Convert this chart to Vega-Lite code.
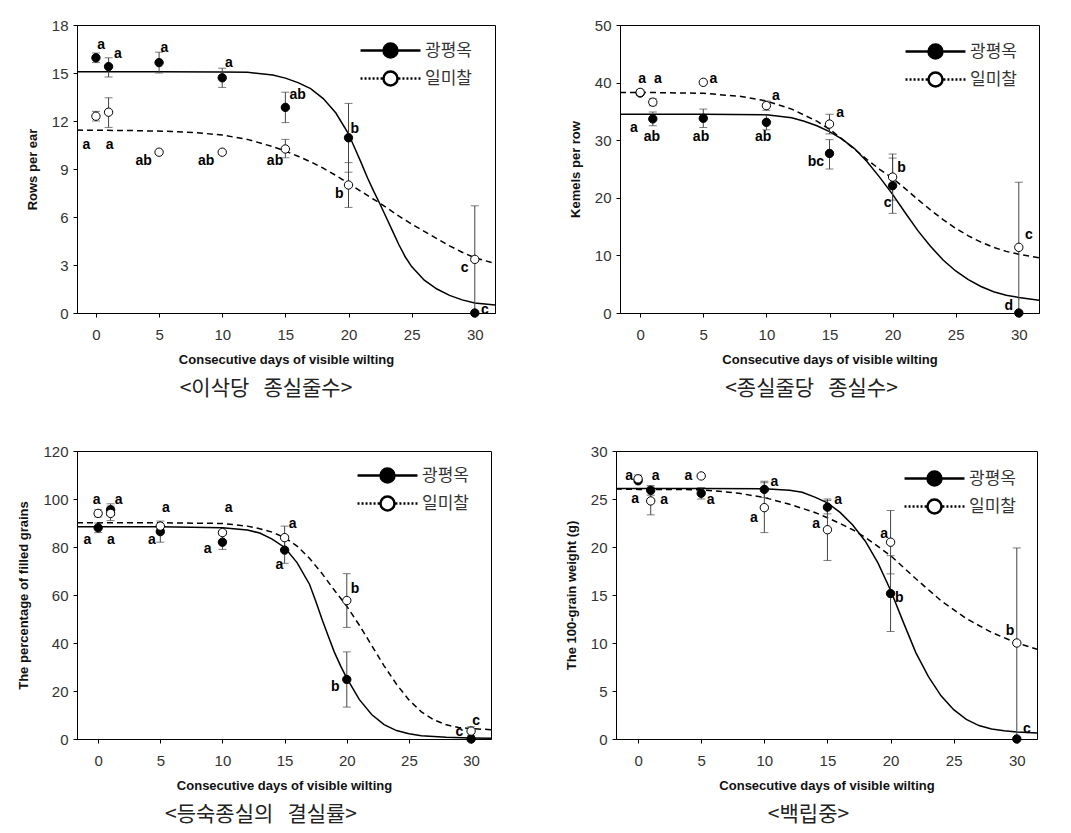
{
"$schema": "https://vega.github.io/schema/vega-lite/v6.json",
"padding": {"left": 17, "top": 17, "right": 5, "bottom": 5},
"background": "white",
"config": {
  "view": {"stroke": "black", "strokeWidth": 1},
  "axis": {"grid": false, "domainColor": "black", "tickColor": "black", "tickSize": 4, "labelFont": "Liberation Sans", "labelFontSize": 15, "labelColor": "#333", "titleFont": "Liberation Sans", "titleFontSize": 13, "titleFontWeight": "bold", "titleColor": "#111"},
  "axisX": {"labelPadding": 10, "titlePadding": 11},
  "axisY": {"labelPadding": 5, "titlePadding": 12},
  "title": {"font": "Noto Sans CJK KR", "fontSize": 21, "fontWeight": "normal", "color": "#222"},
  "legend": {"title": null, "orient": "none", "symbolSize": 784, "symbolStrokeColor": "black", "symbolStrokeWidth": 2.5, "labelFont": "Noto Sans CJK KR", "labelFontSize": 17, "labelColor": "#333", "labelOffset": 19, "rowPadding": 0, "padding": 0}
},
"resolve": {"scale": {"fill": "independent", "shape": "independent"}, "legend": {"fill": "independent", "shape": "independent"}},
"datasets": {
"p1c": [
{"c":"광평옥","d":-1.5,"v":15.08},{"c":"광평옥","d":0,"v":15.08},{"c":"광평옥","d":5,"v":15.08},{"c":"광평옥","d":10,"v":15.07},{"c":"광평옥","d":12,"v":15.04},{"c":"광평옥","d":14,"v":14.88},{"c":"광평옥","d":15,"v":14.68},{"c":"광평옥","d":16,"v":14.4},{"c":"광평옥","d":17,"v":14.02},{"c":"광평옥","d":18,"v":13.4},{"c":"광평옥","d":19,"v":12.5},{"c":"광평옥","d":20,"v":11.2},{"c":"광평옥","d":20.5,"v":10.3},{"c":"광평옥","d":21,"v":9.4},{"c":"광평옥","d":21.5,"v":8.45},{"c":"광평옥","d":22,"v":7.6},{"c":"광평옥","d":22.5,"v":6.8},{"c":"광평옥","d":23,"v":5.95},{"c":"광평옥","d":23.5,"v":5.1},{"c":"광평옥","d":24,"v":4.25},{"c":"광평옥","d":24.5,"v":3.5},{"c":"광평옥","d":25,"v":2.9},{"c":"광평옥","d":26,"v":2.05},{"c":"광평옥","d":27,"v":1.5},{"c":"광평옥","d":28,"v":1.1},{"c":"광평옥","d":29,"v":0.82},{"c":"광평옥","d":30,"v":0.63},{"c":"광평옥","d":31.6,"v":0.5},
{"c":"일미찰","d":-1.5,"v":11.43},{"c":"일미찰","d":0,"v":11.42},{"c":"일미찰","d":3,"v":11.4},{"c":"일미찰","d":6,"v":11.35},{"c":"일미찰","d":8,"v":11.27},{"c":"일미찰","d":10,"v":11.12},{"c":"일미찰","d":12,"v":10.85},{"c":"일미찰","d":14,"v":10.4},{"c":"일미찰","d":15,"v":10.12},{"c":"일미찰","d":16,"v":9.8},{"c":"일미찰","d":17,"v":9.45},{"c":"일미찰","d":18,"v":9.05},{"c":"일미찰","d":19,"v":8.6},{"c":"일미찰","d":20,"v":8.1},{"c":"일미찰","d":21,"v":7.6},{"c":"일미찰","d":22,"v":7.1},{"c":"일미찰","d":23,"v":6.6},{"c":"일미찰","d":24,"v":6.05},{"c":"일미찰","d":25,"v":5.55},{"c":"일미찰","d":26,"v":5.1},{"c":"일미찰","d":27,"v":4.65},{"c":"일미찰","d":28,"v":4.2},{"c":"일미찰","d":29,"v":3.8},{"c":"일미찰","d":30,"v":3.45},{"c":"일미찰","d":31.6,"v":3.1}
],
"p1p": [
{"c":"광평옥","d":0,"v":15.95,"lo":15.65,"hi":16.25},{"c":"광평옥","d":1,"v":15.4,"lo":14.75,"hi":15.95},{"c":"광평옥","d":5,"v":15.65,"lo":15.0,"hi":16.3},{"c":"광평옥","d":10,"v":14.7,"lo":14.1,"hi":15.3},{"c":"광평옥","d":15,"v":12.85,"lo":11.9,"hi":13.8},{"c":"광평옥","d":20,"v":10.95,"lo":8.8,"hi":13.1},{"c":"광평옥","d":30,"v":0,"lo":null,"hi":null},
{"c":"일미찰","d":0,"v":12.3,"lo":12.0,"hi":12.6},{"c":"일미찰","d":1,"v":12.55,"lo":11.6,"hi":13.45},{"c":"일미찰","d":5,"v":10.05,"lo":null,"hi":null},{"c":"일미찰","d":10,"v":10.05,"lo":null,"hi":null},{"c":"일미찰","d":15,"v":10.25,"lo":9.7,"hi":10.85},{"c":"일미찰","d":20,"v":8.0,"lo":6.6,"hi":9.4},{"c":"일미찰","d":30,"v":3.35,"lo":0,"hi":6.7}
],
"p1l": [
{"d":0.42,"v":16.75,"t":"a"},{"d":1.74,"v":16.17,"t":"a"},{"d":5.43,"v":16.58,"t":"a"},{"d":10.52,"v":15.64,"t":"a"},{"d":15.98,"v":13.62,"t":"ab"},{"d":20.5,"v":11.53,"t":"b"},{"d":30.8,"v":0.2,"t":"c"},
{"d":-0.76,"v":10.49,"t":"a"},{"d":1.08,"v":10.49,"t":"a"},{"d":3.77,"v":9.49,"t":"ab"},{"d":8.73,"v":9.49,"t":"ab"},{"d":14.18,"v":9.49,"t":"ab"},{"d":19.27,"v":7.45,"t":"b"},{"d":29.2,"v":2.82,"t":"c"}
],
"p2c": [
{"c":"광평옥","d":-1.6,"v":34.5},{"c":"광평옥","d":0,"v":34.5},{"c":"광평옥","d":5,"v":34.5},{"c":"광평옥","d":10,"v":34.4},{"c":"광평옥","d":12,"v":33.9},{"c":"광평옥","d":13,"v":33.3},{"c":"광평옥","d":14,"v":32.5},{"c":"광평옥","d":15,"v":31.5},{"c":"광평옥","d":16,"v":30.2},{"c":"광평옥","d":17,"v":28.5},{"c":"광평옥","d":18,"v":26.2},{"c":"광평옥","d":19,"v":23.5},{"c":"광평옥","d":20,"v":20.6},{"c":"광평옥","d":21,"v":17.4},{"c":"광평옥","d":22,"v":14.3},{"c":"광평옥","d":23,"v":11.6},{"c":"광평옥","d":24,"v":9.2},{"c":"광평옥","d":25,"v":7.3},{"c":"광평옥","d":26,"v":5.8},{"c":"광평옥","d":27,"v":4.6},{"c":"광평옥","d":28,"v":3.7},{"c":"광평옥","d":29,"v":3.1},{"c":"광평옥","d":30,"v":2.7},{"c":"광평옥","d":31.6,"v":2.2},
{"c":"일미찰","d":-1.6,"v":38.3},{"c":"일미찰","d":0,"v":38.3},{"c":"일미찰","d":5,"v":38.15},{"c":"일미찰","d":8,"v":37.6},{"c":"일미찰","d":10,"v":36.8},{"c":"일미찰","d":12,"v":35.4},{"c":"일미찰","d":14,"v":33.3},{"c":"일미찰","d":15,"v":31.9},{"c":"일미찰","d":16,"v":30.2},{"c":"일미찰","d":17,"v":28.4},{"c":"일미찰","d":18,"v":26.6},{"c":"일미찰","d":19,"v":24.9},{"c":"일미찰","d":20,"v":23.4},{"c":"일미찰","d":21,"v":21.6},{"c":"일미찰","d":22,"v":19.7},{"c":"일미찰","d":23,"v":17.9},{"c":"일미찰","d":24,"v":16.2},{"c":"일미찰","d":25,"v":14.7},{"c":"일미찰","d":26,"v":13.4},{"c":"일미찰","d":27,"v":12.3},{"c":"일미찰","d":28,"v":11.4},{"c":"일미찰","d":29,"v":10.7},{"c":"일미찰","d":30,"v":10.2},{"c":"일미찰","d":31.6,"v":9.6}
],
"p2p": [
{"c":"광평옥","d":0,"v":38.2,"lo":null,"hi":null},{"c":"광평옥","d":1,"v":33.7,"lo":32.5,"hi":34.9},{"c":"광평옥","d":5,"v":33.8,"lo":32.2,"hi":35.4},{"c":"광평옥","d":10,"v":33.1,"lo":31.8,"hi":34.4},{"c":"광평옥","d":15,"v":27.7,"lo":25.0,"hi":30.1},{"c":"광평옥","d":20,"v":22.1,"lo":17.3,"hi":26.9},{"c":"광평옥","d":30,"v":0,"lo":null,"hi":null},
{"c":"일미찰","d":0,"v":38.3,"lo":37.8,"hi":38.8},{"c":"일미찰","d":1,"v":36.6,"lo":36.0,"hi":37.2},{"c":"일미찰","d":5,"v":40.05,"lo":null,"hi":null},{"c":"일미찰","d":10,"v":36.0,"lo":35.2,"hi":36.8},{"c":"일미찰","d":15,"v":32.8,"lo":31.1,"hi":34.5},{"c":"일미찰","d":20,"v":23.6,"lo":19.6,"hi":27.6},{"c":"일미찰","d":30,"v":11.4,"lo":0,"hi":22.7}
],
"p2l": [
{"d":0.15,"v":40.6,"t":"a"},{"d":1.4,"v":40.6,"t":"a"},{"d":5.8,"v":40.6,"t":"a"},{"d":10.76,"v":37.7,"t":"a"},{"d":15.85,"v":34.7,"t":"a"},{"d":20.7,"v":25.1,"t":"b"},{"d":30.8,"v":13.6,"t":"c"},
{"d":-0.5,"v":32.1,"t":"a"},{"d":0.92,"v":30.6,"t":"ab"},{"d":4.82,"v":30.6,"t":"ab"},{"d":9.75,"v":30.6,"t":"ab"},{"d":13.92,"v":26.3,"t":"bc"},{"d":19.6,"v":19.1,"t":"c"},{"d":29.2,"v":1.16,"t":"d"}
],
"p3c": [
{"c":"광평옥","d":-1.7,"v":88.4},{"c":"광평옥","d":0,"v":88.4},{"c":"광평옥","d":5,"v":88.4},{"c":"광평옥","d":10,"v":88.0},{"c":"광평옥","d":12,"v":87.1},{"c":"광평옥","d":13,"v":85.8},{"c":"광평옥","d":14,"v":83.3},{"c":"광평옥","d":15,"v":79.8},{"c":"광평옥","d":16,"v":73.5},{"c":"광평옥","d":17,"v":64.5},{"c":"광평옥","d":17.5,"v":57.5},{"c":"광평옥","d":18,"v":50},{"c":"광평옥","d":18.5,"v":43},{"c":"광평옥","d":19,"v":36.2},{"c":"광평옥","d":19.5,"v":30.5},{"c":"광평옥","d":20,"v":25.4},{"c":"광평옥","d":21,"v":16.5},{"c":"광평옥","d":22,"v":10.2},{"c":"광평옥","d":23,"v":6.0},{"c":"광평옥","d":24,"v":3.5},{"c":"광평옥","d":25,"v":2.2},{"c":"광평옥","d":26,"v":1.4},{"c":"광평옥","d":28,"v":0.7},{"c":"광평옥","d":30,"v":0.4},{"c":"광평옥","d":31.6,"v":0.3},
{"c":"일미찰","d":-1.7,"v":90.1},{"c":"일미찰","d":0,"v":90.1},{"c":"일미찰","d":5,"v":90.1},{"c":"일미찰","d":10,"v":89.8},{"c":"일미찰","d":12,"v":88.7},{"c":"일미찰","d":13,"v":87.6},{"c":"일미찰","d":14,"v":86.2},{"c":"일미찰","d":15,"v":83.9},{"c":"일미찰","d":16,"v":80.4},{"c":"일미찰","d":17,"v":75.3},{"c":"일미찰","d":18,"v":69},{"c":"일미찰","d":19,"v":62},{"c":"일미찰","d":20,"v":55.3},{"c":"일미찰","d":21,"v":47.5},{"c":"일미찰","d":22,"v":39},{"c":"일미찰","d":23,"v":30.5},{"c":"일미찰","d":24,"v":22.8},{"c":"일미찰","d":25,"v":16.3},{"c":"일미찰","d":26,"v":11.3},{"c":"일미찰","d":27,"v":8.0},{"c":"일미찰","d":28,"v":5.9},{"c":"일미찰","d":29,"v":4.8},{"c":"일미찰","d":30,"v":4.3},{"c":"일미찰","d":31.6,"v":3.9}
],
"p3p": [
{"c":"광평옥","d":0,"v":88,"lo":86,"hi":90},{"c":"광평옥","d":1,"v":95.5,"lo":93,"hi":98},{"c":"광평옥","d":5,"v":86.4,"lo":82,"hi":90.8},{"c":"광평옥","d":10,"v":82,"lo":79,"hi":85},{"c":"광평옥","d":15,"v":78.7,"lo":73.2,"hi":84.2},{"c":"광평옥","d":20,"v":24.8,"lo":13.3,"hi":36.3},{"c":"광평옥","d":30,"v":0,"lo":null,"hi":null},
{"c":"일미찰","d":0,"v":94,"lo":92.5,"hi":95.5},{"c":"일미찰","d":1,"v":94,"lo":91,"hi":97},{"c":"일미찰","d":5,"v":88.7,"lo":null,"hi":null},{"c":"일미찰","d":10,"v":86,"lo":null,"hi":null},{"c":"일미찰","d":15,"v":83.9,"lo":79.1,"hi":88.7},{"c":"일미찰","d":20,"v":57.7,"lo":46.5,"hi":68.9},{"c":"일미찰","d":30,"v":3.3,"lo":1.5,"hi":5.1}
],
"p3l": [
{"d":-0.86,"v":82.9,"t":"a"},{"d":1.02,"v":82.9,"t":"a"},{"d":4.32,"v":82.9,"t":"a"},{"d":8.8,"v":79.3,"t":"a"},{"d":14.57,"v":72.5,"t":"a"},{"d":19.08,"v":21.7,"t":"b"},{"d":29.06,"v":2.8,"t":"c"},
{"d":-0.13,"v":99.6,"t":"a"},{"d":1.64,"v":99.6,"t":"a"},{"d":5.45,"v":96.2,"t":"a"},{"d":10.5,"v":96.2,"t":"a"},{"d":15.64,"v":89.4,"t":"a"},{"d":20.66,"v":62.3,"t":"b"},{"d":30.4,"v":7.4,"t":"c"}
],
"p4c": [
{"c":"광평옥","d":-1.75,"v":26.1},{"c":"광평옥","d":0,"v":26.1},{"c":"광평옥","d":5,"v":26.1},{"c":"광평옥","d":10,"v":26.07},{"c":"광평옥","d":12,"v":25.9},{"c":"광평옥","d":13,"v":25.7},{"c":"광평옥","d":14,"v":25.2},{"c":"광평옥","d":15,"v":24.6},{"c":"광평옥","d":16,"v":23.6},{"c":"광평옥","d":17,"v":22.3},{"c":"광평옥","d":18,"v":20.6},{"c":"광평옥","d":19,"v":18.35},{"c":"광평옥","d":20,"v":15.5},{"c":"광평옥","d":21,"v":12.2},{"c":"광평옥","d":22,"v":9.0},{"c":"광평옥","d":23,"v":6.5},{"c":"광평옥","d":24,"v":4.5},{"c":"광평옥","d":25,"v":3.05},{"c":"광평옥","d":26,"v":2.05},{"c":"광평옥","d":27,"v":1.4},{"c":"광평옥","d":28,"v":1.05},{"c":"광평옥","d":29,"v":0.85},{"c":"광평옥","d":30,"v":0.72},{"c":"광평옥","d":31.6,"v":0.62},
{"c":"일미찰","d":-1.75,"v":26.05},{"c":"일미찰","d":0,"v":26.0},{"c":"일미찰","d":3,"v":26.0},{"c":"일미찰","d":5,"v":25.95},{"c":"일미찰","d":6,"v":25.85},{"c":"일미찰","d":8,"v":25.6},{"c":"일미찰","d":10,"v":25.15},{"c":"일미찰","d":12,"v":24.45},{"c":"일미찰","d":14,"v":23.6},{"c":"일미찰","d":15,"v":23.05},{"c":"일미찰","d":16,"v":22.45},{"c":"일미찰","d":17,"v":21.8},{"c":"일미찰","d":18,"v":21.0},{"c":"일미찰","d":20,"v":19.1},{"c":"일미찰","d":22,"v":16.7},{"c":"일미찰","d":24,"v":14.4},{"c":"일미찰","d":26,"v":12.55},{"c":"일미찰","d":28,"v":11.1},{"c":"일미찰","d":30,"v":10.0},{"c":"일미찰","d":31.6,"v":9.35}
],
"p4p": [
{"c":"광평옥","d":0,"v":26.9,"lo":null,"hi":null},{"c":"광평옥","d":1,"v":25.9,"lo":25.4,"hi":26.4},{"c":"광평옥","d":5,"v":25.6,"lo":25.0,"hi":26.2},{"c":"광평옥","d":10,"v":26.0,"lo":25.15,"hi":26.85},{"c":"광평옥","d":15,"v":24.15,"lo":23.45,"hi":24.85},{"c":"광평옥","d":20,"v":15.15,"lo":11.2,"hi":19.1},{"c":"광평옥","d":30,"v":0,"lo":null,"hi":null},
{"c":"일미찰","d":0,"v":27.1,"lo":26.7,"hi":27.5},{"c":"일미찰","d":1,"v":24.8,"lo":23.35,"hi":26.25},{"c":"일미찰","d":5,"v":27.4,"lo":null,"hi":null},{"c":"일미찰","d":10,"v":24.1,"lo":21.5,"hi":26.7},{"c":"일미찰","d":15,"v":21.8,"lo":18.6,"hi":25.0},{"c":"일미찰","d":20,"v":20.5,"lo":17.2,"hi":23.8},{"c":"일미찰","d":30,"v":10.0,"lo":0.1,"hi":19.9}
],
"p4l": [
{"d":-0.24,"v":24.95,"t":"a"},{"d":1.4,"v":27.4,"t":"a"},{"d":5.75,"v":24.9,"t":"a"},{"d":10.8,"v":26.76,"t":"a"},{"d":15.85,"v":24.9,"t":"a"},{"d":20.7,"v":14.7,"t":"b"},{"d":30.8,"v":1.04,"t":"c"},
{"d":-0.71,"v":27.4,"t":"a"},{"d":2.06,"v":24.9,"t":"a"},{"d":3.98,"v":27.4,"t":"a"},{"d":9.17,"v":23.05,"t":"a"},{"d":14.1,"v":22.35,"t":"a"},{"d":19.5,"v":21.4,"t":"a"},{"d":29.47,"v":11.2,"t":"b"}
],
"leg": []
},
"vconcat": [
{"resolve": {"scale": {"fill": "independent", "shape": "independent"}, "legend": {"fill": "independent", "shape": "independent"}}, "hconcat": [
{
 "width": 418, "height": 288,
 "title": {"text": "<이삭당\u00a0\u00a0\u00a0종실줄수>", "orient": "bottom", "dx": -20, "offset": 12},
 "encoding": {"x": {"field": "d", "type": "quantitative", "scale": {"domain": [-1.5, 31.6], "nice": false, "zero": false}, "axis": {"values": [0,5,10,15,20,25,30], "title": "Consecutive days of visible wilting"}}},
 "layer": [
  {"data": {"name": "p1c"}, "transform": [{"filter": "datum.c === '광평옥'"}], "mark": {"type": "line", "color": "black", "strokeWidth": 1.5}, "encoding": {"y": {"field": "v", "type": "quantitative", "scale": {"domain": [0, 18], "nice": false}, "axis": {"values": [0,3,6,9,12,15,18], "title": "Rows per ear"}}}},
  {"data": {"name": "p1c"}, "transform": [{"filter": "datum.c === '일미찰'"}], "mark": {"type": "line", "color": "black", "strokeWidth": 1.5, "strokeDash": [6, 4]}, "encoding": {"y": {"field": "v", "type": "quantitative", "scale": {"domain": [0, 18], "nice": false}}}},
  {"data": {"name": "p1p"}, "transform": [{"filter": "isValid(datum.lo)"}], "mark": {"type": "rule", "color": "#444", "strokeWidth": 1}, "encoding": {"y": {"field": "lo", "type": "quantitative", "scale": {"domain": [0, 18], "nice": false}}, "y2": {"field": "hi"}}},
  {"data": {"name": "p1p"}, "transform": [{"filter": "isValid(datum.lo)"}], "mark": {"type": "tick", "orient": "horizontal", "size": 8, "thickness": 1, "color": "#444"}, "encoding": {"y": {"field": "lo", "type": "quantitative", "scale": {"domain": [0, 18], "nice": false}}}},
  {"data": {"name": "p1p"}, "transform": [{"filter": "isValid(datum.hi)"}], "mark": {"type": "tick", "orient": "horizontal", "size": 8, "thickness": 1, "color": "#444"}, "encoding": {"y": {"field": "hi", "type": "quantitative", "scale": {"domain": [0, 18], "nice": false}}}},
  {"data": {"name": "p1p"}, "mark": {"type": "point", "shape": "circle", "filled": true, "size": 70, "stroke": "black", "strokeWidth": 1, "opacity": 1}, "encoding": {"y": {"field": "v", "type": "quantitative", "scale": {"domain": [0, 18], "nice": false}}, "fill": {"field": "c", "type": "nominal", "scale": {"domain": ["광평옥","일미찰"], "range": ["black","white"]}, "legend": {"legendX": 298, "legendY": 10}}}},
  {"data": {"name": "p1l"}, "mark": {"type": "text", "font": "Liberation Sans", "fontWeight": "bold", "fontSize": 14, "color": "black"}, "encoding": {"y": {"field": "v", "type": "quantitative", "scale": {"domain": [0, 18], "nice": false}}, "text": {"field": "t"}}},
  {"data": {"name": "leg"}, "mark": {"type": "point", "filled": true, "stroke": "black", "strokeWidth": 2.5, "opacity": 1}, "encoding": {"fill": {"field": "c", "type": "nominal", "scale": {"domain": ["광평옥","일미찰"], "range": ["black","white"]}, "legend": {"legendX": 298, "legendY": 10}}, "shape": {"field": "c", "type": "nominal", "scale": {"domain": ["광평옥","일미찰"], "range": ["M-2.14,0H2.14M0.5,0A0.5,0.5,0,1,1,-0.5,0A0.5,0.5,0,1,1,0.5,0Z", "M-2.14,0H-2M-1.854,0H-1.711M-1.568,0H-1.425M-1.282,0H-1.139M-0.996,0H-0.853M-0.71,0H-0.567M0.567,0H0.71M0.853,0H0.996M1.139,0H1.282M1.425,0H1.568M1.711,0H1.854M2,0H2.14M0.5,0A0.5,0.5,0,1,1,-0.5,0A0.5,0.5,0,1,1,0.5,0Z"]}, "legend": {"legendX": 298, "legendY": 10}}}}
 ]
},
{
 "width": 419, "height": 288,
 "title": {"text": "<종실줄당\u00a0\u00a0\u00a0종실수>", "orient": "bottom", "dx": -18, "offset": 12},
 "encoding": {"x": {"field": "d", "type": "quantitative", "scale": {"domain": [-1.6, 31.6], "nice": false, "zero": false}, "axis": {"values": [0,5,10,15,20,25,30], "title": "Consecutive days of visible wilting"}}},
 "layer": [
  {"data": {"name": "p2c"}, "transform": [{"filter": "datum.c === '광평옥'"}], "mark": {"type": "line", "color": "black", "strokeWidth": 1.5}, "encoding": {"y": {"field": "v", "type": "quantitative", "scale": {"domain": [0, 50], "nice": false}, "axis": {"values": [0,10,20,30,40,50], "title": "Kemels per row"}}}},
  {"data": {"name": "p2c"}, "transform": [{"filter": "datum.c === '일미찰'"}], "mark": {"type": "line", "color": "black", "strokeWidth": 1.5, "strokeDash": [6, 4]}, "encoding": {"y": {"field": "v", "type": "quantitative", "scale": {"domain": [0, 50], "nice": false}}}},
  {"data": {"name": "p2p"}, "transform": [{"filter": "isValid(datum.lo)"}], "mark": {"type": "rule", "color": "#444", "strokeWidth": 1}, "encoding": {"y": {"field": "lo", "type": "quantitative", "scale": {"domain": [0, 50], "nice": false}}, "y2": {"field": "hi"}}},
  {"data": {"name": "p2p"}, "transform": [{"filter": "isValid(datum.lo)"}], "mark": {"type": "tick", "orient": "horizontal", "size": 8, "thickness": 1, "color": "#444"}, "encoding": {"y": {"field": "lo", "type": "quantitative", "scale": {"domain": [0, 50], "nice": false}}}},
  {"data": {"name": "p2p"}, "transform": [{"filter": "isValid(datum.hi)"}], "mark": {"type": "tick", "orient": "horizontal", "size": 8, "thickness": 1, "color": "#444"}, "encoding": {"y": {"field": "hi", "type": "quantitative", "scale": {"domain": [0, 50], "nice": false}}}},
  {"data": {"name": "p2p"}, "mark": {"type": "point", "shape": "circle", "filled": true, "size": 70, "stroke": "black", "strokeWidth": 1, "opacity": 1}, "encoding": {"y": {"field": "v", "type": "quantitative", "scale": {"domain": [0, 50], "nice": false}}, "fill": {"field": "c", "type": "nominal", "scale": {"domain": ["광평옥","일미찰"], "range": ["black","white"]}, "legend": {"legendX": 300, "legendY": 11}}}},
  {"data": {"name": "p2l"}, "mark": {"type": "text", "font": "Liberation Sans", "fontWeight": "bold", "fontSize": 14, "color": "black"}, "encoding": {"y": {"field": "v", "type": "quantitative", "scale": {"domain": [0, 50], "nice": false}}, "text": {"field": "t"}}},
  {"data": {"name": "leg"}, "mark": {"type": "point", "filled": true, "stroke": "black", "strokeWidth": 2.5, "opacity": 1}, "encoding": {"fill": {"field": "c", "type": "nominal", "scale": {"domain": ["광평옥","일미찰"], "range": ["black","white"]}, "legend": {"legendX": 300, "legendY": 11}}, "shape": {"field": "c", "type": "nominal", "scale": {"domain": ["광평옥","일미찰"], "range": ["M-2.14,0H2.14M0.5,0A0.5,0.5,0,1,1,-0.5,0A0.5,0.5,0,1,1,0.5,0Z", "M-2.14,0H-2M-1.854,0H-1.711M-1.568,0H-1.425M-1.282,0H-1.139M-0.996,0H-0.853M-0.71,0H-0.567M0.567,0H0.71M0.853,0H0.996M1.139,0H1.282M1.425,0H1.568M1.711,0H1.854M2,0H2.14M0.5,0A0.5,0.5,0,1,1,-0.5,0A0.5,0.5,0,1,1,0.5,0Z"]}, "legend": {"legendX": 300, "legendY": 11}}}}
 ]
}
], "spacing": 69},
{"resolve": {"scale": {"fill": "independent", "shape": "independent"}, "legend": {"fill": "independent", "shape": "independent"}}, "hconcat": [
{
 "width": 414, "height": 288,
 "title": {"text": "<등숙종실의\u00a0\u00a0\u00a0결실률>", "orient": "bottom", "dx": -23, "offset": 12},
 "encoding": {"x": {"field": "d", "type": "quantitative", "scale": {"domain": [-1.7, 31.6], "nice": false, "zero": false}, "axis": {"values": [0,5,10,15,20,25,30], "title": "Consecutive days of visible wilting"}}},
 "layer": [
  {"data": {"name": "p3c"}, "transform": [{"filter": "datum.c === '광평옥'"}], "mark": {"type": "line", "color": "black", "strokeWidth": 1.5}, "encoding": {"y": {"field": "v", "type": "quantitative", "scale": {"domain": [0, 120], "nice": false}, "axis": {"values": [0,20,40,60,80,100,120], "title": "The percentage of filled grains"}}}},
  {"data": {"name": "p3c"}, "transform": [{"filter": "datum.c === '일미찰'"}], "mark": {"type": "line", "color": "black", "strokeWidth": 1.5, "strokeDash": [6, 4]}, "encoding": {"y": {"field": "v", "type": "quantitative", "scale": {"domain": [0, 120], "nice": false}}}},
  {"data": {"name": "p3p"}, "transform": [{"filter": "isValid(datum.lo)"}], "mark": {"type": "rule", "color": "#444", "strokeWidth": 1}, "encoding": {"y": {"field": "lo", "type": "quantitative", "scale": {"domain": [0, 120], "nice": false}}, "y2": {"field": "hi"}}},
  {"data": {"name": "p3p"}, "transform": [{"filter": "isValid(datum.lo)"}], "mark": {"type": "tick", "orient": "horizontal", "size": 8, "thickness": 1, "color": "#444"}, "encoding": {"y": {"field": "lo", "type": "quantitative", "scale": {"domain": [0, 120], "nice": false}}}},
  {"data": {"name": "p3p"}, "transform": [{"filter": "isValid(datum.hi)"}], "mark": {"type": "tick", "orient": "horizontal", "size": 8, "thickness": 1, "color": "#444"}, "encoding": {"y": {"field": "hi", "type": "quantitative", "scale": {"domain": [0, 120], "nice": false}}}},
  {"data": {"name": "p3p"}, "mark": {"type": "point", "shape": "circle", "filled": true, "size": 70, "stroke": "black", "strokeWidth": 1, "opacity": 1}, "encoding": {"y": {"field": "v", "type": "quantitative", "scale": {"domain": [0, 120], "nice": false}}, "fill": {"field": "c", "type": "nominal", "scale": {"domain": ["광평옥","일미찰"], "range": ["black","white"]}, "legend": {"legendX": 295, "legendY": 9}}}},
  {"data": {"name": "p3l"}, "mark": {"type": "text", "font": "Liberation Sans", "fontWeight": "bold", "fontSize": 14, "color": "black"}, "encoding": {"y": {"field": "v", "type": "quantitative", "scale": {"domain": [0, 120], "nice": false}}, "text": {"field": "t"}}},
  {"data": {"name": "leg"}, "mark": {"type": "point", "filled": true, "stroke": "black", "strokeWidth": 2.5, "opacity": 1}, "encoding": {"fill": {"field": "c", "type": "nominal", "scale": {"domain": ["광평옥","일미찰"], "range": ["black","white"]}, "legend": {"legendX": 295, "legendY": 9}}, "shape": {"field": "c", "type": "nominal", "scale": {"domain": ["광평옥","일미찰"], "range": ["M-2.14,0H2.14M0.5,0A0.5,0.5,0,1,1,-0.5,0A0.5,0.5,0,1,1,0.5,0Z", "M-2.14,0H-2M-1.854,0H-1.711M-1.568,0H-1.425M-1.282,0H-1.139M-0.996,0H-0.853M-0.71,0H-0.567M0.567,0H0.71M0.853,0H0.996M1.139,0H1.282M1.425,0H1.568M1.711,0H1.854M2,0H2.14M0.5,0A0.5,0.5,0,1,1,-0.5,0A0.5,0.5,0,1,1,0.5,0Z"]}, "legend": {"legendX": 295, "legendY": 9}}}}
 ]
},
{
 "width": 421, "height": 288,
 "title": {"text": "<백립중>", "orient": "bottom", "dx": -18, "offset": 12},
 "encoding": {"x": {"field": "d", "type": "quantitative", "scale": {"domain": [-1.75, 31.6], "nice": false, "zero": false}, "axis": {"values": [0,5,10,15,20,25,30], "title": "Consecutive days of visible wilting"}}},
 "layer": [
  {"data": {"name": "p4c"}, "transform": [{"filter": "datum.c === '광평옥'"}], "mark": {"type": "line", "color": "black", "strokeWidth": 1.5}, "encoding": {"y": {"field": "v", "type": "quantitative", "scale": {"domain": [0, 30], "nice": false}, "axis": {"values": [0,5,10,15,20,25,30], "title": "The 100-grain weight (g)"}}}},
  {"data": {"name": "p4c"}, "transform": [{"filter": "datum.c === '일미찰'"}], "mark": {"type": "line", "color": "black", "strokeWidth": 1.5, "strokeDash": [6, 4]}, "encoding": {"y": {"field": "v", "type": "quantitative", "scale": {"domain": [0, 30], "nice": false}}}},
  {"data": {"name": "p4p"}, "transform": [{"filter": "isValid(datum.lo)"}], "mark": {"type": "rule", "color": "#444", "strokeWidth": 1}, "encoding": {"y": {"field": "lo", "type": "quantitative", "scale": {"domain": [0, 30], "nice": false}}, "y2": {"field": "hi"}}},
  {"data": {"name": "p4p"}, "transform": [{"filter": "isValid(datum.lo)"}], "mark": {"type": "tick", "orient": "horizontal", "size": 8, "thickness": 1, "color": "#444"}, "encoding": {"y": {"field": "lo", "type": "quantitative", "scale": {"domain": [0, 30], "nice": false}}}},
  {"data": {"name": "p4p"}, "transform": [{"filter": "isValid(datum.hi)"}], "mark": {"type": "tick", "orient": "horizontal", "size": 8, "thickness": 1, "color": "#444"}, "encoding": {"y": {"field": "hi", "type": "quantitative", "scale": {"domain": [0, 30], "nice": false}}}},
  {"data": {"name": "p4p"}, "mark": {"type": "point", "shape": "circle", "filled": true, "size": 70, "stroke": "black", "strokeWidth": 1, "opacity": 1}, "encoding": {"y": {"field": "v", "type": "quantitative", "scale": {"domain": [0, 30], "nice": false}}, "fill": {"field": "c", "type": "nominal", "scale": {"domain": ["광평옥","일미찰"], "range": ["black","white"]}, "legend": {"legendX": 303, "legendY": 12}}}},
  {"data": {"name": "p4l"}, "mark": {"type": "text", "font": "Liberation Sans", "fontWeight": "bold", "fontSize": 14, "color": "black"}, "encoding": {"y": {"field": "v", "type": "quantitative", "scale": {"domain": [0, 30], "nice": false}}, "text": {"field": "t"}}},
  {"data": {"name": "leg"}, "mark": {"type": "point", "filled": true, "stroke": "black", "strokeWidth": 2.5, "opacity": 1}, "encoding": {"fill": {"field": "c", "type": "nominal", "scale": {"domain": ["광평옥","일미찰"], "range": ["black","white"]}, "legend": {"legendX": 303, "legendY": 12}}, "shape": {"field": "c", "type": "nominal", "scale": {"domain": ["광평옥","일미찰"], "range": ["M-2.14,0H2.14M0.5,0A0.5,0.5,0,1,1,-0.5,0A0.5,0.5,0,1,1,0.5,0Z", "M-2.14,0H-2M-1.854,0H-1.711M-1.568,0H-1.425M-1.282,0H-1.139M-0.996,0H-0.853M-0.71,0H-0.567M0.567,0H0.71M0.853,0H0.996M1.139,0H1.282M1.425,0H1.568M1.711,0H1.854M2,0H2.14M0.5,0A0.5,0.5,0,1,1,-0.5,0A0.5,0.5,0,1,1,0.5,0Z"]}, "legend": {"legendX": 303, "legendY": 12}}}}
 ]
}
], "spacing": 69}
], "spacing": 43
}
